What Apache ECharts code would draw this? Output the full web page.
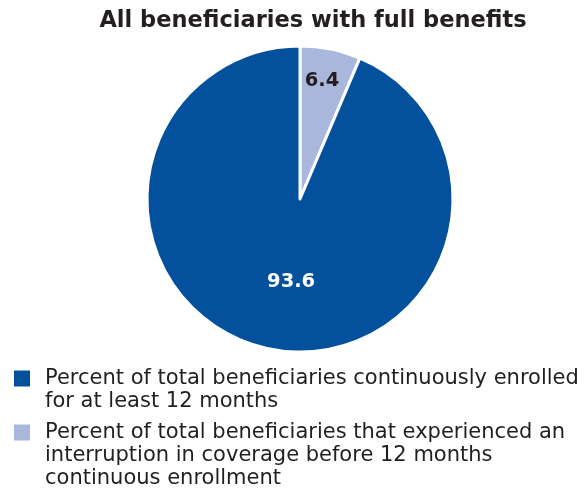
<!DOCTYPE html>
<html>
<head>
<meta charset="utf-8">
<script src="https://cdn.jsdelivr.net/npm/echarts@6/dist/echarts.min.js"></script>
<style>
  html, body { margin: 0; padding: 0; background: #fff; }
  #chart { width: 586px; height: 495px; }
</style>
</head>
<body>
<div id="chart"></div>
<script>
// Share of beneficiaries by enrollment continuity (percent)
const categories = [
  'Percent of total beneficiaries that experienced an interruption in coverage before 12 months continuous enrollment',
  'Percent of total beneficiaries continuously enrolled for at least 12 months'
];
const values = [6.4, 93.6];
const colors = ['#aab7dc', '#03519d'];
// Legend text broken into lines for the narrow column
const legendLines = {};
legendLines[categories[1]] = ['Percent of total beneficiaries continuously enrolled', 'for at least 12 months'];
legendLines[categories[0]] = ['Percent of total beneficiaries that experienced an', 'interruption in coverage before 12 months', 'continuous enrollment'];

const FONT = '"DejaVu Sans", sans-serif';
const LINE_H = 23;
const CENTER = [300, 199];
const RADIUS = 153;

// Legend text is centred on its swatch; padding with blank lines above
// keeps the swatch level with the first line.
function legendText(name) {
  const lines = legendLines[name];
  const pad = [];
  for (let i = 1; i < lines.length; i++) pad.push('\u00a0');
  return pad.concat(lines).join('\n');
}

function legendFor(name, top) {
  return {
    orient: 'vertical',
    left: 14,
    top: top,
    padding: 0,
    itemWidth: 16,
    itemHeight: 16,
    itemGap: 0,
    icon: 'rect',
    itemStyle: { borderWidth: 0 },
    selectedMode: false,
    data: [name],
    formatter: legendText,
    textStyle: { fontFamily: FONT, fontSize: 21, lineHeight: LINE_H, color: '#231f20', padding: [0, 0, 0, 10] }
  };
}

const labelFont = { fontFamily: FONT, fontWeight: 'bold', fontSize: 19.5 };

// Invisible ring over the pie that carries the value label of one slice,
// at the distance from the centre given by the ring's middle.
function labelRing(radius, showIndex, color, padding) {
  return {
    type: 'pie',
    center: CENTER,
    radius: radius,
    startAngle: 90,
    clockwise: true,
    data: categories.map((name, i) => ({
      name: name,
      value: values[i],
      itemStyle: { color: 'rgba(0,0,0,0)', borderWidth: 0 },
      label: { show: i === showIndex }
    })),
    label: Object.assign({
      position: 'inside',
      formatter: p => p.value.toFixed(1),
      color: color,
      padding: padding
    }, labelFont),
    labelLine: { show: false },
    emphasis: { disabled: true },
    silent: true,
    legendHoverLink: false,
    z: 3
  };
}

const chart = echarts.init(document.getElementById('chart'), null, { renderer: 'canvas' });

chart.setOption({
  animation: false,
  title: {
    text: 'All beneficiaries with full benefits',
    left: 313,
    textAlign: 'center',
    top: 10,
    padding: 0,
    textStyle: { fontFamily: FONT, fontWeight: 'bold', fontSize: 22.5, color: '#231f20' }
  },
  legend: [
    legendFor(categories[1], 344),
    legendFor(categories[0], 375)
  ],
  series: [
    {
      type: 'pie',
      center: CENTER,
      radius: [0, RADIUS],
      startAngle: 90,
      clockwise: true,
      data: categories.map((name, i) => ({
        name: name,
        value: values[i],
        itemStyle: { color: colors[i] }
      })),
      itemStyle: { borderColor: '#fff', borderWidth: 3 },
      label: { show: false },
      labelLine: { show: false },
      emphasis: { disabled: true },
      silent: true
    },
    labelRing([82, RADIUS], 0, '#231f20', [0, 4, 0, 0]),
    labelRing([0, 163], 1, '#fff', [0, 0, 0, 16])
  ]
});
</script>
</body>
</html>
